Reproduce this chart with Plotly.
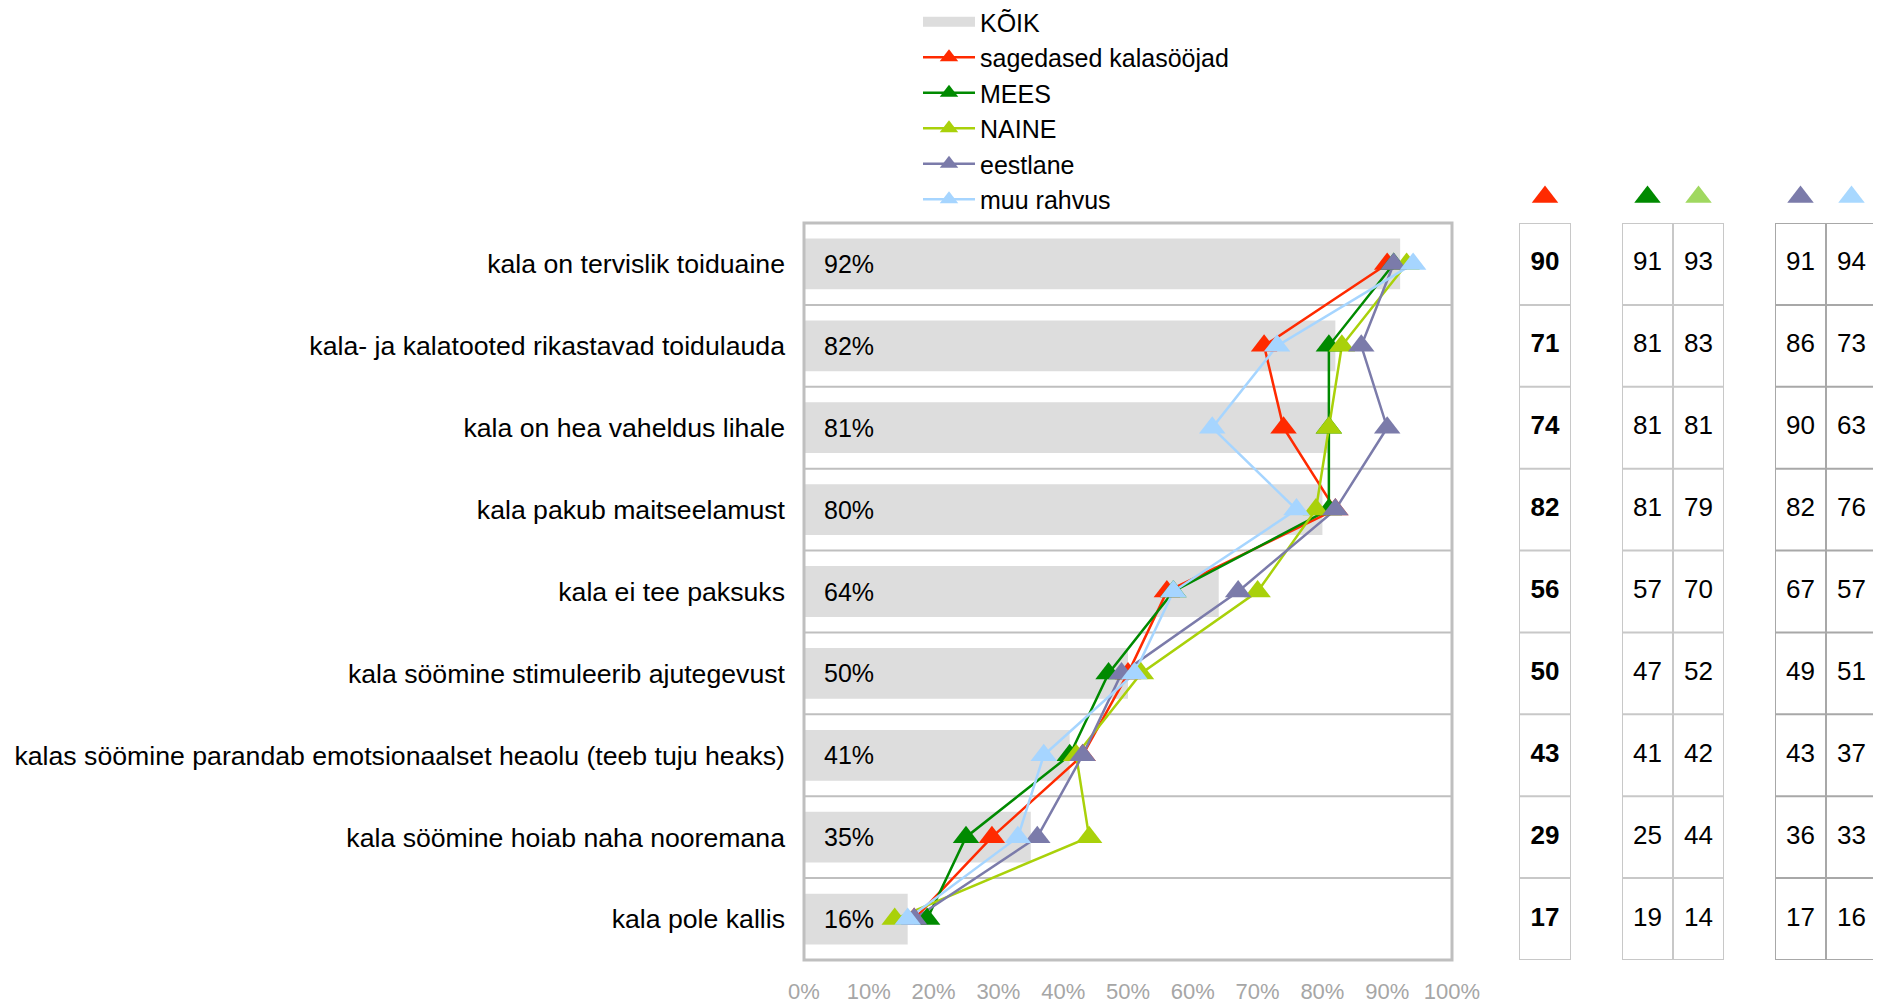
import plotly.graph_objects as go

# ---------------- data ----------------
categories = [
    "kala on tervislik toiduaine",
    "kala- ja kalatooted rikastavad toidulauda",
    "kala on hea vaheldus lihale",
    "kala pakub maitseelamust",
    "kala ei tee paksuks",
    "kala söömine stimuleerib ajutegevust",
    "kalas söömine parandab emotsionaalset heaolu (teeb tuju heaks)",
    "kala söömine hoiab naha nooremana",
    "kala pole kallis",
]
koik = [92, 82, 81, 80, 64, 50, 41, 35, 16]
sagedased = [90, 71, 74, 82, 56, 50, 43, 29, 17]
mees = [91, 81, 81, 81, 57, 47, 41, 25, 19]
naine = [93, 83, 81, 79, 70, 52, 42, 44, 14]
eestlane = [91, 86, 90, 82, 67, 49, 43, 36, 17]
muu_rahvus = [94, 73, 63, 76, 57, 51, 37, 33, 16]
x_ticks = [0, 10, 20, 30, 40, 50, 60, 70, 80, 90, 100]

series_names = ["sagedased kalasööjad", "MEES", "NAINE", "eestlane", "muu rahvus"]
series_values = [sagedased, mees, naine, eestlane, muu_rahvus]
series_colors = ["#FF2A00", "#008A00", "#A9D10A", "#7B7BAA", "#A6D5FF"]
header_colors = ["#FF2A00", "#008A00", "#A0D860", "#7B7BAA", "#A8D8FF"]

# ---------------- layout helpers ----------------
W, H = 1881, 1003
OFF = 8  # default page body margin
FONT = "Liberation Sans, Arial, sans-serif"
MSHIFT = 5  # centre triangle markers on their points (px)


def fx(p):
    return (p - OFF) / W


def fy(p):
    return 1 - (p - OFF) / H


rows = list(range(len(categories)))
n = len(categories)

fig = go.Figure()

# bars (KÕIK)
fig.add_trace(go.Bar(
    x=koik, y=rows, orientation="h", width=0.62,
    marker=dict(color="#DDDDDD", line=dict(width=0)),
    showlegend=False, hoverinfo="skip",
))
# legend entry for KÕIK
fig.add_trace(go.Scatter(
    x=[None], y=[None], mode="lines", name="KÕIK",
    line=dict(color="#DDDDDD", width=13),
))

# line series: lines on main y axis, markers on a slightly shifted overlay axis
for name, vals, col in zip(series_names, series_values, series_colors):
    fig.add_trace(go.Scatter(
        x=[None], y=[None], mode="lines+markers", name=name,
        line=dict(color=col, width=2.5),
        marker=dict(symbol="triangle-up", size=23, color=col, line=dict(width=0)),
    ))
    fig.add_trace(go.Scatter(
        x=vals, y=rows, mode="lines", showlegend=False,
        line=dict(color=col, width=2.5), hoverinfo="skip",
    ))
for name, vals, col in zip(series_names, series_values, series_colors):
    fig.add_trace(go.Scatter(
        x=vals, y=rows, mode="markers", showlegend=False, yaxis="y3",
        marker=dict(symbol="triangle-up", size=23, color=col, line=dict(width=0)),
        hoverinfo="skip",
    ))

# bar value labels
annotations = []
for r, v in zip(rows, koik):
    annotations.append(dict(
        x=0, y=r, xref="x", yref="y", text=f"{v}%", showarrow=False,
        xanchor="left", yanchor="middle", xshift=18,
        font=dict(family=FONT, size=25, color="#000000"),
    ))

# ---------------- right-hand table ----------------
groups = [
    ("x2", [sagedased], [header_colors[0]], True, "#C8C8C8"),
    ("x3", [mees, naine], header_colors[1:3], False, "#C8C8C8"),
    ("x4", [eestlane, muu_rahvus], header_colors[3:5], False, "#A8A8A8"),
]
shapes = []
for xa, cols, hcols, bold, bcol in groups:
    for ci, (vals, hc) in enumerate(zip(cols, hcols)):
        fig.add_trace(go.Scatter(
            x=[ci] * n, y=rows, mode="text", xaxis=xa, yaxis="y",
            text=[str(v) for v in vals], showlegend=False, hoverinfo="skip",
            textfont=dict(family=FONT, size=26, color="#000000",
                          weight="bold" if bold else "normal"),
        ))
        fig.add_trace(go.Scatter(
            x=[ci], y=[0], mode="markers", xaxis=xa, yaxis="y2",
            marker=dict(symbol="triangle-up", size=23, color=hc, line=dict(width=0)),
            showlegend=False, hoverinfo="skip",
        ))
    nc = len(cols)
    shapes.append(dict(type="rect", xref=xa, yref="y", x0=-0.5, x1=nc - 0.5,
                       y0=-0.5, y1=n - 0.5, line=dict(color=bcol, width=2)))
    for k in range(1, nc):
        shapes.append(dict(type="line", xref=xa, yref="y", x0=k - 0.5, x1=k - 0.5,
                           y0=-0.5, y1=n - 0.5, line=dict(color=bcol, width=2)))
    for r in rows[:-1]:
        shapes.append(dict(type="line", xref=xa, yref="y", x0=-0.5, x1=nc - 0.5,
                           y0=r + 0.5, y1=r + 0.5, line=dict(color=bcol, width=2)))

# main plot borders and row separators
for r in rows[:-1]:
    shapes.append(dict(type="line", xref="x domain", yref="y", x0=0, x1=1,
                       y0=r + 0.5, y1=r + 0.5, line=dict(color="#BFBFBF", width=2),
                       layer="below"))
shapes.append(dict(type="rect", xref="x domain", yref="y domain", x0=0, x1=1,
                   y0=0, y1=1, line=dict(color="#BFBFBF", width=3)))

fig.update_layout(
    width=W, height=H,
    margin=dict(l=0, r=0, t=0, b=0, autoexpand=False),
    paper_bgcolor="white", plot_bgcolor="rgba(0,0,0,0)",
    font=dict(family=FONT, color="#000000"),
    showlegend=True,
    legend=dict(
        x=fx(918), y=fy(-1), xanchor="left", yanchor="top",
        font=dict(family=FONT, size=25, color="#000000"),
        bgcolor="rgba(0,0,0,0)", itemwidth=52, tracegroupgap=0,
        traceorder="normal",
    ),
    xaxis=dict(
        domain=[fx(804), fx(1452)], range=[0, 100],
        tickvals=x_ticks, ticktext=[f"{t}%" for t in x_ticks],
        showgrid=False, zeroline=False, showline=False, ticks="",
        tickfont=dict(family=FONT, size=22, color="#A6A6A6"),
        ticklabelstandoff=16, fixedrange=True, automargin=False,
    ),
    yaxis=dict(
        domain=[fy(960), fy(223)], range=[n - 0.5, -0.5],
        tickvals=rows, ticktext=categories,
        showgrid=False, zeroline=False, showline=False, ticks="",
        tickfont=dict(family=FONT, size=26.67, color="#000000"),
        ticklabelstandoff=18, fixedrange=True, automargin=False,
    ),
    yaxis3=dict(
        domain=[fy(960 + MSHIFT), fy(223 + MSHIFT)], range=[n - 0.5, -0.5],
        overlaying="y", visible=False, fixedrange=True,
    ),
    yaxis2=dict(domain=[fy(217), fy(177)], range=[-0.5, 0.5], anchor="x2",
                visible=False, fixedrange=True),
    xaxis2=dict(domain=[fx(1519), fx(1571)], range=[-0.5, 0.5], anchor="y",
                visible=False, fixedrange=True),
    xaxis3=dict(domain=[fx(1622), fx(1724)], range=[-0.5, 1.5], anchor="y",
                visible=False, fixedrange=True),
    xaxis4=dict(domain=[fx(1775), fx(1877)], range=[-0.5, 1.5], anchor="y",
                visible=False, fixedrange=True),
    shapes=shapes,
    annotations=annotations,
)

fig.write_html("out.html")
